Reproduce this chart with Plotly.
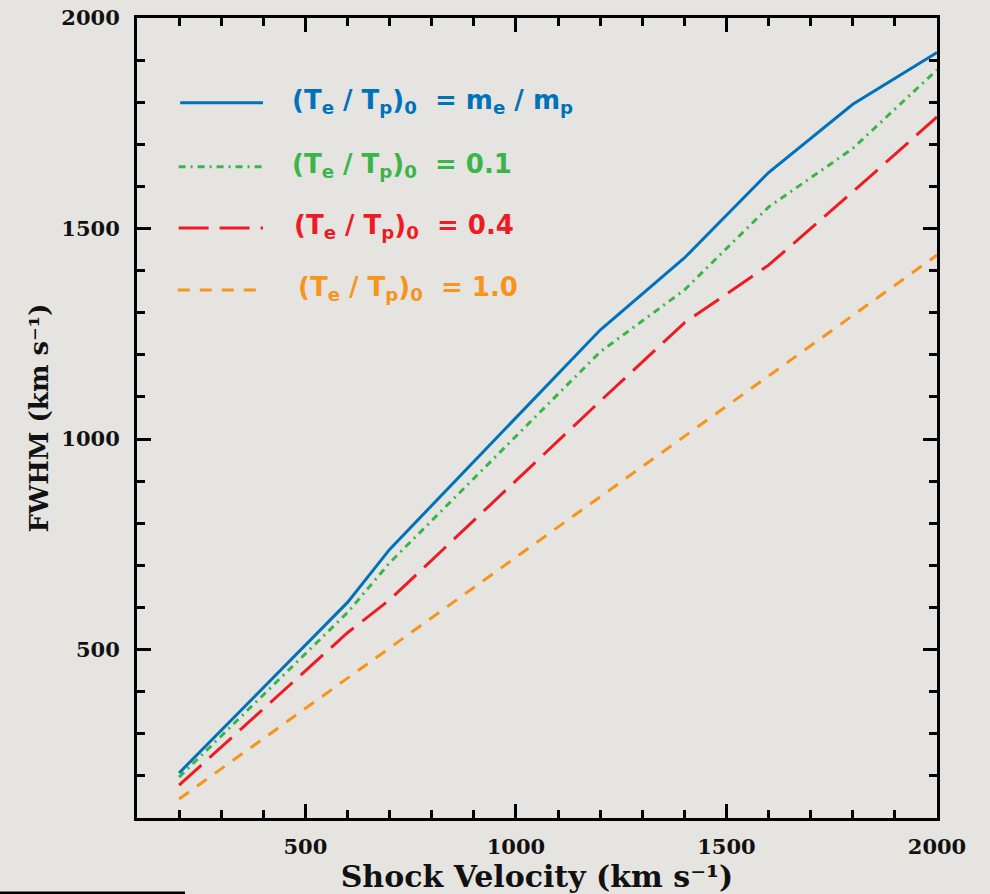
import plotly.graph_objects as go

# Shock velocity (km/s)
velocity = [200, 600, 700, 1200, 1400, 1600, 1800, 2000]

# FWHM (km/s) for different initial electron/proton temperature ratios
fwhm_me_mp = [207, 612, 738, 1259, 1430, 1633, 1795, 1918]
fwhm_01 = [197, 588, 706, 1207, 1354, 1551, 1690, 1877]
fwhm_04 = [178, 540, 618, 1090, 1276, 1413, 1587, 1765]
fwhm_10 = [145, 432, 504, 862, 1005, 1148, 1292, 1437]

labels = [
    "(T<sub>e</sub> / T<sub>p</sub>)<sub>0</sub>&nbsp;&nbsp;= m<sub>e</sub> / m<sub>p</sub>",
    "(T<sub>e</sub> / T<sub>p</sub>)<sub>0</sub>&nbsp;&nbsp;= 0.1",
    "(T<sub>e</sub> / T<sub>p</sub>)<sub>0</sub>&nbsp;&nbsp;= 0.4",
    "(T<sub>e</sub> / T<sub>p</sub>)<sub>0</sub>&nbsp;&nbsp;= 1.0",
]
colors = ["#0072BC", "#39B54A", "#ED1C24", "#F7941D"]
dashes = ["solid", "7px,5px,2px,5px", "30px,11px", "12px,10px"]
series = [fwhm_me_mp, fwhm_01, fwhm_04, fwhm_10]

x_ticks = [500, 1000, 1500, 2000]
y_ticks = [500, 1000, 1500, 2000]

BG = "#e6e4e0"

fig = go.Figure()
for ys, c, d, name in zip(series, colors, dashes, labels):
    fig.add_trace(go.Scatter(x=velocity, y=ys, mode="lines", name=name,
                             line=dict(color=c, width=3, dash=d),
                             showlegend=False))

# custom legend (key lines + labels) in paper coordinates
leg_y = [0.894, 0.814, 0.7375, 0.66]
leg_x0 = [0.054, 0.052, 0.052, 0.051]
leg_x1 = [0.1575, 0.1575, 0.1575, 0.151]
txt_x = [0.191, 0.191, 0.194, 0.199]
shapes = []
annotations = []
for i in range(4):
    shapes.append(dict(type="line", xref="paper", yref="paper",
                       x0=leg_x0[i], x1=leg_x1[i], y0=leg_y[i], y1=leg_y[i],
                       line=dict(color=colors[i], width=3, dash=dashes[i])))
    annotations.append(dict(xref="paper", yref="paper", x=txt_x[i], y=leg_y[i] + 0.002,
                            xanchor="left", yanchor="middle", showarrow=False,
                            text="<b>" + labels[i] + "</b>",
                            font=dict(family="DejaVu Sans", size=26, color=colors[i])))

# small black rule at bottom-left of the page
shapes.append(dict(type="rect", xref="paper", yref="paper",
                   x0=-0.172, x1=0.06, y0=-0.095, y1=-0.0918,
                   line=dict(width=0), fillcolor="black"))

axis_common = dict(
    showline=True, linecolor="black", linewidth=3, mirror="ticks",
    ticks="inside", ticklen=14, tickwidth=3, tickcolor="black",
    showgrid=False, zeroline=False, automargin=False,
    tickfont=dict(family="DejaVu Serif", size=21, color="#111111", weight="bold"),
    minor=dict(ticks="inside", ticklen=8, tickwidth=3, dtick=100, tickcolor="black", showgrid=False),
)

fig.update_layout(
    width=990, height=894,
    margin=dict(l=137, r=53, t=18, b=76),
    paper_bgcolor=BG, plot_bgcolor=BG,
    shapes=shapes, annotations=annotations,
    xaxis=dict(range=[100, 2000], tickvals=x_ticks,
               title=dict(text="<b>Shock Velocity (km s⁻¹)</b>", standoff=6,
                          font=dict(family="DejaVu Serif", size=30, color="#111111")),
               ticklabelstandoff=8, **axis_common),
    yaxis=dict(range=[100, 2000], tickvals=y_ticks,
               title=dict(text="<b>FWHM (km s⁻¹)</b>", standoff=6,
                          font=dict(family="DejaVu Serif", size=26, color="#111111")),
               ticklabelstandoff=10, **axis_common),
)

fig.write_html("out.html")
